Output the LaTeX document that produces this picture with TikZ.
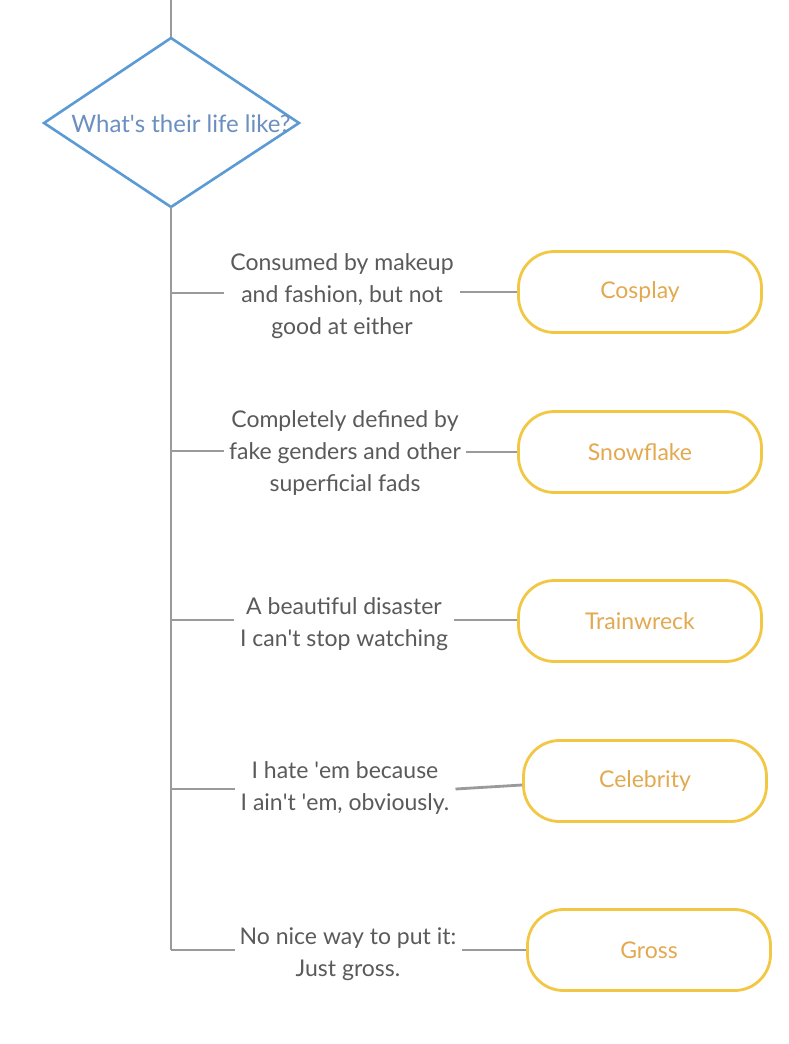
\documentclass[tikz,border=0pt]{standalone}
\usepackage{fontspec}
\setmainfont{Lato}
\usetikzlibrary{shapes.geometric}
\definecolor{dblue}{HTML}{5B9BD5}
\definecolor{dbluetext}{HTML}{6A8FC0}
\definecolor{gold}{HTML}{F2C744}
\definecolor{goldtext}{HTML}{E3A94F}
\definecolor{lgrey}{HTML}{9A9A9A}
\definecolor{ltext}{HTML}{5A5A5A}
\newcommand{\ap}{\textquotesingle}
\tikzset{
  conn/.style={draw=lgrey, line width=2.8pt},
  answer/.style={draw=gold, line width=2.8pt, rounded corners=36pt, minimum width=243pt, minimum height=81pt, text=goldtext, font=\fontsize{23}{28}\selectfont, inner sep=0pt},
  lbl/.style={align=center, text=ltext, font=\fontsize{23}{32}\selectfont, inner xsep=6pt, inner ysep=0pt},
}
\begin{document}
\begin{tikzpicture}[x=1pt,y=-1pt]
\useasboundingbox (0,0) rectangle (788,1044);
\fill[white] (0,0) rectangle (788,1044);
% diamond
\coordinate (top0) at (171,0);
\coordinate (dT) at (171,38);
\coordinate (dR) at (299,123);
\coordinate (dB) at (171,207);
\coordinate (dL) at (44,123);
\draw[conn] (top0) -- (dT);
\draw[draw=dblue, line width=2.6pt, line join=miter] (dT) -- (dR) -- (dB) -- (dL) -- cycle;
\node[text=dbluetext, font=\fontsize{24}{28}\selectfont, inner sep=0pt] (q) at (181,124) {What\ap s their life like?};
% trunk coordinates
\coordinate (t1) at (171,293);
\coordinate (t2) at (171,451);
\coordinate (t3) at (171,620);
\coordinate (t4) at (171,789);
\coordinate (t5) at (171,950);
\draw[conn] (dB) -- (t5);
% labels
\node[lbl] (l1) at (342,296) {Consumed by makeup\\and fashion, but not\\good at either};
\node[lbl, inner xsep=5pt] (l2) at (345,453) {Completely defined by\\fake genders and other\\superficial fads};
\node[lbl] (l3) at (344,624) {A beautiful disaster\\I can\ap t stop watching};
\node[lbl] (l4) at (345,788) {I hate \ap em because\\I ain\ap t \ap em, obviously.};
\node[lbl, inner xsep=5pt] (l5) at (348,954) {No nice way to put it:\\Just gross.};
% answers
\node[answer] (a1) at (640,292) {Cosplay};
\node[answer] (a2) at (640,452) {Snowflake};
\node[answer] (a3) at (640,621) {Trainwreck};
\node[answer] (a4) at (645,781) {Celebrity};
\node[answer] (a5) at (649,950) {Gross};
% connectors
\draw[conn] (t1) -- (t1 -| l1.west);
\draw[conn] (l1.east |- a1.west) -- (a1.west);
\draw[conn] (t2) -- (t2 -| l2.west);
\draw[conn] (l2.east |- a2.west) -- (a2.west);
\draw[conn] (t3) -- (t3 -| l3.west);
\draw[conn] (l3.east |- t3) -- (a3.west |- t3);
\draw[conn] (t4) -- (t4 -| l4.west);
\draw[conn] (l4.east |- t4) -- ([yshift=-4pt]a4.west);
\draw[conn, line join=miter] (t5) -- (t5 -| l5.west);
\draw[conn] (l5.east |- t5) -- (a5.west);
\end{tikzpicture}
\end{document}
